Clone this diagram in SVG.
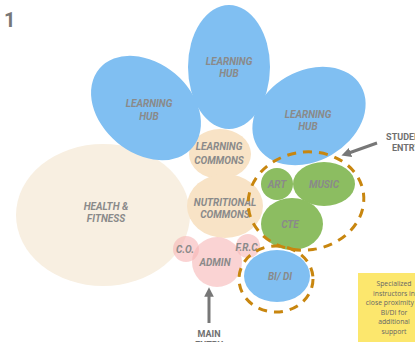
<svg xmlns="http://www.w3.org/2000/svg" width="415" height="342" viewBox="0 0 415 342">
<defs>
<style>
.lbl{font-family:Roboto,"Liberation Sans",sans-serif;font-weight:700;font-style:italic;font-size:10px;fill:#8a8a8a;text-anchor:middle}
.ent{font-family:Roboto,"Liberation Sans",sans-serif;font-weight:700;font-size:9px;fill:#6f6f6f;text-anchor:middle}
.note{font-family:"Open Sans","Liberation Sans",sans-serif;font-size:6.8px;fill:#666;text-anchor:middle}
.hub{fill:#80bff2}
.cream{fill:#f8e3c6}
.pale{fill:#f8efe1}
.pink{fill:#f6b5b5;fill-opacity:0.6}
.green{fill:#8cbd61}
.dash{fill:none;stroke:#c8860f;stroke-width:3;stroke-dasharray:9 7}
.arrow{stroke:#777;stroke-width:3;fill:none}
</style>
<marker id="ah" viewBox="0 0 10 10" refX="5" refY="5" markerWidth="3.2" markerHeight="3.2" orient="auto">
<path d="M0,0 L10,5 L0,10 z" fill="#777"/>
</marker>
</defs>
<rect width="415" height="342" fill="#fff"/>
<text x="4" y="27" style="font-family:Roboto,'Liberation Sans',sans-serif;font-weight:700;font-size:20px;fill:#777">1</text>

<g id="health-fitness"><ellipse class="pale" cx="103" cy="215" rx="87" ry="71"/><text class="lbl" x="106" y="210">HEALTH &amp;</text><text class="lbl" x="106" y="222">FITNESS</text></g>
<g id="learning-commons"><ellipse class="cream" cx="220" cy="154" rx="31" ry="25"/><text class="lbl" x="219" y="150">LEARNING</text><text class="lbl" x="219" y="164">COMMONS</text></g>
<g id="nutritional-commons"><ellipse class="cream" cx="225" cy="206" rx="38" ry="32"/><text class="lbl" x="225" y="206">NUTRITIONAL</text><text class="lbl" x="225" y="218">COMMONS</text></g>
<g id="hub-left"><ellipse class="hub" cx="146" cy="108" rx="61" ry="45" transform="rotate(40 146 108)"/><text class="lbl" x="149" y="107">LEARNING</text><text class="lbl" x="149" y="120">HUB</text></g>
<g id="hub-top"><ellipse class="hub" cx="229" cy="67" rx="41" ry="62"/><text class="lbl" x="229" y="65">LEARNING</text><text class="lbl" x="229" y="77">HUB</text></g>
<g id="hub-right"><ellipse class="hub" cx="309" cy="116" rx="60" ry="45" transform="rotate(-30 309 116)"/><text class="lbl" x="308" y="118">LEARNING</text><text class="lbl" x="308" y="130">HUB</text></g>
<g id="co"><circle class="pink" cx="186" cy="249" r="13"/><text class="lbl" x="185" y="253">C.O.</text></g>
<g id="admin"><circle class="pink" cx="217" cy="262" r="25"/><text class="lbl" x="215" y="266">ADMIN</text></g>
<g id="frc"><circle class="pink" cx="248" cy="246" r="12"/><text class="lbl" x="248" y="251">F.R.C.</text></g>
<g id="art"><circle class="green" cx="277" cy="184" r="16"/><text class="lbl" x="277" y="188">ART</text></g>
<g id="music"><ellipse class="green" cx="324" cy="184" rx="31" ry="22"/><text class="lbl" x="324" y="188">MUSIC</text></g>
<g id="cte"><ellipse class="green" cx="292" cy="224" rx="31" ry="26"/><text class="lbl" x="290" y="228">CTE</text></g>
<g id="bidi"><ellipse class="hub" cx="277" cy="276" rx="33" ry="26"/><text class="lbl" x="280" y="280">BI/ DI</text></g>

<g id="groups">
<ellipse class="dash" cx="306" cy="201" rx="58" ry="49" transform="rotate(-8 306 201)"/>
<ellipse class="dash" cx="276" cy="279" rx="37" ry="33"/>
</g>

<g id="connectors">
<line class="arrow" x1="377" y1="143" x2="346" y2="154" marker-end="url(#ah)"/>
<line class="arrow" x1="209" y1="323" x2="209" y2="292" marker-end="url(#ah)"/>
</g>

<g id="student-entry"><text class="ent" x="406" y="140">STUDENT</text><text class="ent" x="406" y="151">ENTRY</text></g>
<g id="main-entry"><text class="ent" x="209" y="337">MAIN</text><text class="ent" x="209" y="348">ENTRY</text></g>

<g id="note">
<rect x="358" y="273" width="72" height="75" fill="#fce76d"/>
<text class="note" x="394" y="286">Specialized</text>
<text class="note" x="394" y="295.5">instructors in</text>
<text class="note" x="394" y="305">close proximity to</text>
<text class="note" x="394" y="314.5">BI/DI for</text>
<text class="note" x="394" y="324">additional</text>
<text class="note" x="394" y="333.5">support</text>
</g>
</svg>
